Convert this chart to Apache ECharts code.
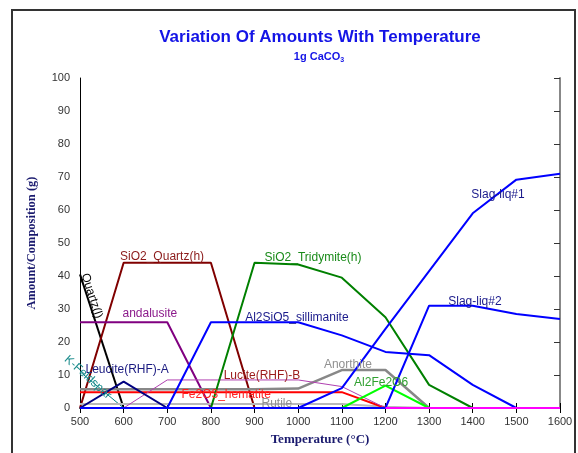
<!DOCTYPE html>
<html>
<head>
<meta charset="utf-8">
<script src="https://cdn.jsdelivr.net/npm/echarts@6/dist/echarts.min.js"></script>
<style>
  html, body { margin: 0; padding: 0; background: #fff; }
  #chart { width: 578px; height: 453px; }
</style>
</head>
<body>
<div id="chart"></div>
<script>
// temperatures (°C)
const temps = [500, 600, 700, 800, 900, 1000, 1100, 1200, 1300, 1400, 1500, 1600];

// amounts (g), null where the phase is absent
const quartzL     = [40.5, 0, null, null, null, null, null, null, null, null, null, null];
const quartzH     = [0, 44, 44, 44, 0, null, null, null, null, null, null, null];
const andalusite  = [26, 26, 26, 0, null, null, null, null, null, null, null, null];
const kFeldspar   = [11, 0, null, null, null, null, null, null, null, null, null, null];
const leuciteA    = [0, 8, 0, null, null, null, null, null, null, null, null, null];
const luciteB     = [null, 0, 8.5, 8.5, 8.5, 8.5, 6.5, 0, null, null, null, null];
const anorthite   = [5.7, 5.7, 5.7, 5.7, 5.7, 5.9, 11.5, 11.5, 0, null, null, null];
const rutile      = [1.2, 1.2, 1.2, 1.2, 1.2, 1.2, 1.2, 0.4, 0, null, null, null];
const hematite    = [4.8, 4.8, 4.8, 4.8, 4.8, 4.8, 4.8, 0, null, null, null, null];
const al2fe2o6    = [null, null, null, null, null, null, 0, 6.8, 0, null, null, null];
const tridymite   = [null, null, null, 0, 44, 43.5, 39.5, 27.5, 7, 0, null, null];
const sillimanite = [0, 0, 0, 26, 26, 26, 22, 17, 16, 7, 0, 0];
const slagLiq1    = [0, 0, 0, 0, 0, 0, 6, 24, 41.5, 59, 69.2, 71];
const slagLiq2    = [0, 0, 0, 0, 0, 0, 0, 0, 31, 31, 28.5, 27];
const lastPhase   = [null, null, null, null, null, null, null, 0, 0, 0, 0, 0];

const xTicks = [500, 600, 700, 800, 900, 1000, 1100, 1200, 1300, 1400, 1500, 1600];

const pairs = (arr) => temps.map((t, i) => [t, arr[i]]);

function line(name, arr, color, width) {
  return {
    name: name,
    type: 'line',
    data: pairs(arr),
    symbol: 'none',
    connectNulls: false,
    lineStyle: { color: color, width: width || 2 },
    itemStyle: { color: color },
    z: 3,
  };
}

// in-plot labels: text, temperature, amount, colour, rotation (deg, clockwise)
const labels = [
  ['SiO2_Quartz(h)', 688, 46, '#8b1a1a', 0],
  ['Quartz(l)', 527, 34, '#000000', 72],
  ['andalusite', 660, 28.5, '#8b1a8b', 0],
  ['Leucite(RHF)-A', 608, 11.5, '#1a1a80', 0],
  ['K-Feldspar', 518, 9.3, '#1a8b8b', 42],
  ['Lucite(RHF)-B', 917, 9.7, '#9b1a1a', 0],
  ['Fe2O3_hematite', 835, 3.9, '#ff2020', 0],
  ['Rutile', 951, 1.2, '#909090', 0],
  ['Al2SiO5_sillimanite', 997, 27.4, '#1a1a8b', 0],
  ['SiO2_Tridymite(h)', 1034, 45.5, '#1a8b1a', 0],
  ['Anorthite', 1114, 13, '#909090', 0],
  ['Al2Fe2O6', 1190, 7.6, '#30a030', 0],
  ['Slag-liq#1', 1458, 64.5, '#1a1a8b', 0],
  ['Slag-liq#2', 1405, 32.1, '#1a1a8b', 0],
];

const chart = echarts.init(document.getElementById('chart'));

chart.setOption({
  animation: false,
  backgroundColor: '#fff',
  grid: { left: 80, right: 18, top: 78, bottom: 45 },
  xAxis: [
    {
      type: 'value',
      min: 500,
      max: 1600,
      interval: 100,
      name: 'Temperature (°C)',
      nameLocation: 'middle',
      nameGap: 25,
      nameTextStyle: { fontFamily: 'Liberation Serif', fontWeight: 'bold', fontSize: 13, color: '#1a1a6e' },
      axisLine: { show: true, lineStyle: { color: '#000', width: 1 } },
      axisTick: { show: true, inside: true, length: 5, lineStyle: { color: '#000' } },
      axisLabel: {
        color: '#333', fontFamily: 'Liberation Sans', fontSize: 11, margin: 8,
        formatter: (v) => (xTicks.indexOf(v) >= 0 ? String(v) : ''),
      },
      splitLine: { show: false },
    },
    {
      type: 'value',
      position: 'top',
      min: 500,
      max: 1600,
      interval: 100,
      axisLine: { show: true, lineStyle: { color: '#000', width: 1 } },
      axisTick: { show: true, inside: true, length: 5, lineStyle: { color: '#000' } },
      axisLabel: { show: false },
      splitLine: { show: false },
    },
  ],
  yAxis: [
    {
      type: 'value',
      min: 0,
      max: 100,
      interval: 10,
      name: 'Amount/Composition (g)',
      nameLocation: 'middle',
      nameGap: 42,
      nameTextStyle: { fontFamily: 'Liberation Serif', fontWeight: 'bold', fontSize: 12.5, color: '#1a1a6e' },
      axisLine: { show: true, lineStyle: { color: '#000', width: 1 } },
      axisTick: { show: false },
      axisLabel: { color: '#333', fontFamily: 'Liberation Sans', fontSize: 11, margin: 10 },
      splitLine: { show: false },
    },
    {
      type: 'value',
      position: 'right',
      min: 0,
      max: 100,
      interval: 10,
      axisLine: { show: true, lineStyle: { color: '#888', width: 2 } },
      axisTick: { show: true, inside: true, length: 6, lineStyle: { color: '#333' } },
      axisLabel: { show: false },
      splitLine: { show: false },
    },
  ],
  series: [
    line('Quartz(l)', quartzL, '#000000'),
    line('SiO2_Quartz(h)', quartzH, '#800000'),
    line('andalusite', andalusite, '#800080'),
    line('K-Feldspar', kFeldspar, '#008080', 1),
    line('Anorthite', anorthite, '#888888', 2.5),
    line('Rutile', rutile, '#b8b8b8'),
    line('Fe2O3_hematite', hematite, '#ff0000'),
    line('Lucite(RHF)-B', luciteB, '#b040b0', 1),
    line('Leucite(RHF)-A', leuciteA, '#000080'),
    line('Al2Fe2O6', al2fe2o6, '#00ff00'),
    line('SiO2_Tridymite(h)', tridymite, '#008000'),
    line('Al2SiO5_sillimanite', sillimanite, '#0000ff'),
    line('Slag-liq#1', slagLiq1, '#0000ff'),
    line('Slag-liq#2', slagLiq2, '#0000ff'),
    line('phase', lastPhase, '#ff00ff'),
  ],
});

const graphics = [
  {
    type: 'rect',
    shape: { x: 12, y: 10, width: 563, height: 470 },
    style: { fill: 'none', stroke: '#333', lineWidth: 2 },
    silent: true,
    z: 0,
  },
  {
    type: 'text',
    x: 320,
    y: 37,
    style: {
      text: 'Variation Of Amounts With Temperature',
      fill: '#1414e6',
      font: 'bold 17px "Liberation Sans"',
      align: 'center',
      verticalAlign: 'middle',
    },
  },
  {
    type: 'text',
    x: 319,
    y: 57,
    style: {
      text: '1g CaCO{sub|3}',
      fill: '#1414e6',
      font: 'bold 11px "Liberation Sans"',
      align: 'center',
      verticalAlign: 'middle',
      rich: {
        sub: { fontSize: 7, fontWeight: 'bold', fill: '#1414e6', padding: [6, 0, 0, 0] },
      },
    },
  },
];

labels.forEach(([text, t, v, color, rot]) => {
  const p = chart.convertToPixel({ xAxisIndex: 0, yAxisIndex: 0 }, [t, v]);
  graphics.push({
    type: 'text',
    x: p[0],
    y: p[1],
    rotation: -rot * Math.PI / 180,
    style: {
      text: text,
      fill: color,
      font: '12px "Liberation Sans"',
      align: 'center',
      verticalAlign: 'middle',
    },
    z: 10,
  });
});

chart.setOption({ graphic: graphics });
</script>
</body>
</html>
